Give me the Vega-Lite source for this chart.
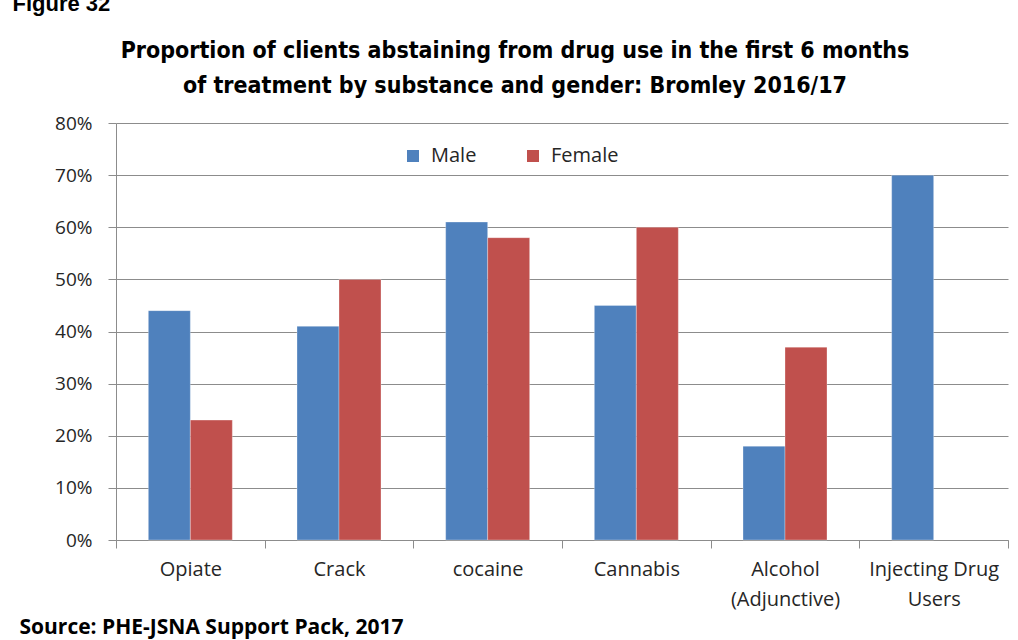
{
  "$schema": "https://vega.github.io/schema/vega-lite/v6.json",
  "autosize": {"type": "none"},
  "padding": {"left": 116, "top": 123, "right": 10, "bottom": 100},
  "width": 892,
  "height": 417,
  "background": "white",
  "title": {
    "text": ["Proportion of clients abstaining from drug use in the first 6 months", "of treatment by substance and gender: Bromley 2016/17"],
    "font": "DejaVu Sans Condensed",
    "fontSize": 23,
    "fontWeight": "bold",
    "color": "#000000",
    "anchor": "middle",
    "frame": "group",
    "dx": -47,
    "lineHeight": 35,
    "offset": -106
  },
  "config": {
    "view": {"stroke": null},
    "axis": {
      "labelFont": "Open Sans",
      "labelColor": "#262626",
      "gridColor": "#8c8c8c",
      "domainColor": "#8c8c8c",
      "tickColor": "#8c8c8c"
    }
  },
  "data": {
    "values": [
      {"substance": "Opiate", "gender": "Male", "value": 0.44},
      {"substance": "Opiate", "gender": "Female", "value": 0.23},
      {"substance": "Crack", "gender": "Male", "value": 0.41},
      {"substance": "Crack", "gender": "Female", "value": 0.50},
      {"substance": "cocaine", "gender": "Male", "value": 0.61},
      {"substance": "cocaine", "gender": "Female", "value": 0.58},
      {"substance": "Cannabis", "gender": "Male", "value": 0.45},
      {"substance": "Cannabis", "gender": "Female", "value": 0.60},
      {"substance": "Alcohol (Adjunctive)", "gender": "Male", "value": 0.18},
      {"substance": "Alcohol (Adjunctive)", "gender": "Female", "value": 0.37},
      {"substance": "Injecting Drug Users", "gender": "Male", "value": 0.70}
    ]
  },
  "mark": {"type": "bar", "stroke": "#ffffff", "strokeWidth": 0.5, "strokeOpacity": 0.6},
  "encoding": {
    "x": {
      "field": "substance",
      "type": "nominal",
      "sort": ["Opiate", "Crack", "cocaine", "Cannabis", "Alcohol (Adjunctive)", "Injecting Drug Users"],
      "scale": {"paddingInner": 0, "paddingOuter": 0},
      "axis": {
        "labelAngle": 0,
        "labelFontSize": 20,
        "labelPadding": 11,
        "labelLineHeight": 30,
        "labelBaseline": "top",
        "labelExpr": "datum.label == 'Alcohol (Adjunctive)' ? ['Alcohol', '(Adjunctive)'] : datum.label == 'Injecting Drug Users' ? ['Injecting Drug', 'Users'] : datum.label",
        "tickBand": "extent",
        "tickSize": 8,
        "title": "Source: PHE-JSNA Support Pack, 2017",
        "titleFont": "Open Sans",
        "titleFontSize": 21,
        "titleFontWeight": "bold",
        "titleColor": "#000000",
        "titleAnchor": "start",
        "titleAlign": "left",
        "titleBaseline": "middle",
        "titleX": -97,
        "titleY": 87
      }
    },
    "xOffset": {
      "field": "gender",
      "type": "nominal",
      "sort": ["Male", "Female"],
      "scale": {"paddingInner": 0, "paddingOuter": 0.77}
    },
    "y": {
      "field": "value",
      "type": "quantitative",
      "scale": {"domain": [0, 0.8]},
      "axis": {
        "values": [0, 0.1, 0.2, 0.3, 0.4, 0.5, 0.6, 0.7, 0.8],
        "format": ".0%",
        "labelFontSize": 19,
        "labelPadding": 16,
        "tickSize": 8,
        "grid": true,
        "title": "Figure 32",
        "titleFont": "Liberation Sans",
        "titleFontSize": 22,
        "titleFontWeight": "bold",
        "titleColor": "#000000",
        "titleAngle": 0,
        "titleAlign": "left",
        "titleBaseline": "alphabetic",
        "titleX": -104,
        "titleY": -113
      }
    },
    "color": {
      "field": "gender",
      "type": "nominal",
      "scale": {"domain": ["Male", "Female"], "range": ["#4F81BD", "#C0504D"]},
      "legend": {
        "orient": "none",
        "legendX": 287,
        "legendY": 23,
        "direction": "horizontal",
        "title": null,
        "symbolType": "square",
        "symbolSize": 144,
        "symbolStrokeWidth": 0,
        "labelFont": "Open Sans",
        "labelFontSize": 20,
        "labelColor": "#262626",
        "labelOffset": 8,
        "columnPadding": 46
      }
    }
  }
}
